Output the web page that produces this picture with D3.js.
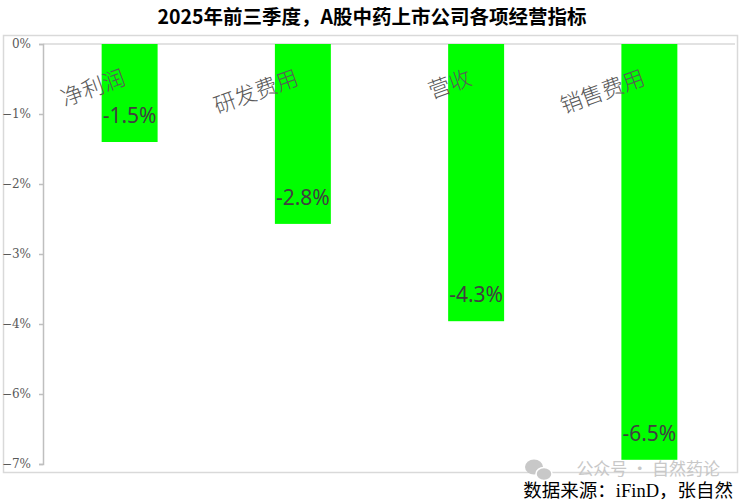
<!DOCTYPE html>
<html>
<head>
<meta charset="utf-8">
<script src="https://cdn.jsdelivr.net/npm/d3@7"></script>
<style>
  body { margin: 0; background: #fff; }
  svg { display: block; }
</style>
</head>
<body>
<div id="container"><svg></svg></div>
<script>
let width = 743;
let height = 504;

let categories = ['净利润', '研发费用', '营收', '销售费用'];
// bar ends as drawn (in axis step units), labels as printed
let barValues = [-1.4, -2.57, -3.96, -5.94];
let barLabels = ['-1.5%', '-2.8%', '-4.3%', '-6.5%'];
// axis: 7 evenly spaced ticks, printed labels skip -5%
let tickValues = [0, -1, -2, -3, -4, -5, -6];
let tickLabels = ['0%', '\u22121%', '\u22122%', '\u22123%', '\u22124%', '\u22126%', '\u22127%'];

let titleText = '2025年前三季度，A股中药上市公司各项经营指标';
let sourceText = '数据来源：iFinD，张自然';
let watermarkText = '公众号 · 自然药论';

let fontFamily = '"Noto Sans", "Noto Sans CJK SC", sans-serif';

function draw_main() {
    let svg = d3.select('#container').select('svg')
        .attr('width', width)
        .attr('height', height);

    // title
    svg.append('text')
        .attr('x', 372)
        .attr('y', 24)
        .attr('text-anchor', 'middle')
        .attr('font-family', '"Noto Sans CJK SC", sans-serif')
        .attr('font-weight', 'bold')
        .attr('font-size', '19.5px')
        .attr('fill', '#000')
        .text(titleText);

    // chart border
    svg.append('rect')
        .attr('x', 3.5).attr('y', 35.5)
        .attr('width', 734).attr('height', 437)
        .attr('fill', 'none')
        .attr('stroke', '#d9d9d9')
        .attr('stroke-width', 1.5);

    let y = d3.scaleLinear()
        .domain([0, -6])
        .range([44, 464]);

    let x = d3.scaleBand()
        .domain(categories)
        .range([43, 736])
        .paddingInner(0.677)
        .paddingOuter(0.3385);

    // top category line at 0
    svg.append('line')
        .attr('x1', 43).attr('x2', 735)
        .attr('y1', y(0)).attr('y2', y(0))
        .attr('stroke', '#d9d9d9')
        .attr('stroke-width', 1.5);

    // y axis
    let axis_y = d3.axisLeft(y)
        .tickValues(tickValues)
        .tickSize(4)
        .tickPadding(8)
        .tickFormat((d, i) => tickLabels[i]);

    let gy = svg.append('g')
        .attr('transform', `translate(43, 0)`)
        .call(axis_y);
    gy.select('.domain').attr('stroke', '#bfbfbf').attr('stroke-width', 1.5);
    gy.selectAll('.tick line').attr('stroke', '#bfbfbf').attr('stroke-width', 1.5);
    gy.selectAll('.tick text')
        .attr('font-family', '"DejaVu Serif", serif')
        .attr('font-size', '12px')
        .attr('fill', '#595959');

    // bars
    let data = categories.map((c, i) => ({cat: c, v: barValues[i], label: barLabels[i]}));

    svg.append('g')
        .selectAll('rect')
        .data(data)
        .enter().append('rect')
        .attr('x', d => x(d.cat))
        .attr('y', y(0))
        .attr('width', x.bandwidth())
        .attr('height', d => y(d.v) - y(0))
        .attr('fill', '#00ff00');

    // value labels, inside end
    svg.append('g')
        .selectAll('text')
        .data(data)
        .enter().append('text')
        .attr('x', d => x(d.cat) + x.bandwidth() / 2)
        .attr('y', d => y(d.v) - 19)
        .attr('text-anchor', 'middle')
        .attr('font-family', fontFamily)
        .attr('font-size', '21px')
        .attr('fill', '#404040')
        .text(d => d.label);

    // rotated category labels
    svg.append('g')
        .selectAll('text')
        .data(data)
        .enter().append('text')
        .attr('transform', d => `translate(${x(d.cat) + x.bandwidth() / 2 - 3}, 84) rotate(-20)`)
        .attr('text-anchor', 'end')
        .attr('font-family', '"Noto Sans CJK SC", sans-serif')
        .attr('font-weight', 300)
        .attr('font-size', '22px')
        .attr('fill', '#595959')
        .text(d => d.cat);

    // watermark
    let wm = svg.append('g').attr('fill', '#c8c8c8');
    wm.append('ellipse').attr('cx', 534).attr('cy', 467).attr('rx', 9).attr('ry', 7.5);
    wm.append('ellipse').attr('cx', 544).attr('cy', 474).attr('rx', 8).attr('ry', 6.5)
        .attr('stroke', '#fff').attr('stroke-width', 1.5);
    wm.append('text')
        .attr('x', 720)
        .attr('y', 475)
        .attr('text-anchor', 'end')
        .attr('font-family', '"Noto Sans CJK SC", sans-serif')
        .attr('font-size', '17px')
        .text(watermarkText);

    // source
    svg.append('text')
        .attr('x', 733)
        .attr('y', 497)
        .attr('text-anchor', 'end')
        .attr('font-family', '"Liberation Serif", "Noto Sans CJK SC", serif')
        .attr('font-size', '18.5px')
        .attr('fill', '#000')
        .text(sourceText);
}

draw_main();
</script>
</body>
</html>
